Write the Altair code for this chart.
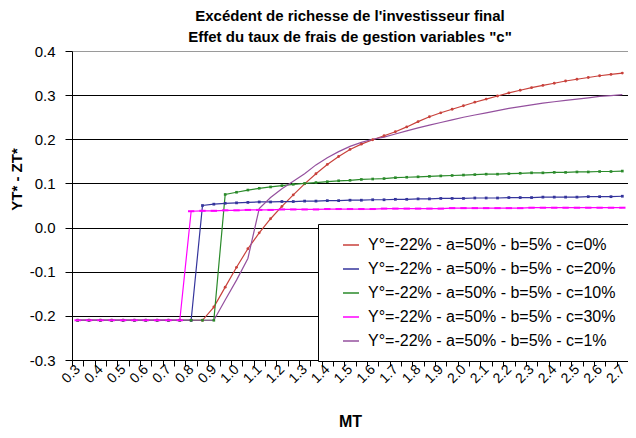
import altair as alt
import pandas as pd

FONT = "Liberation Sans"

# Categories (MT)
mt = [0.30, 0.35, 0.40, 0.45, 0.50, 0.55, 0.60, 0.65, 0.70, 0.75,
      0.80, 0.85, 0.90, 0.95, 1.00, 1.05, 1.10, 1.15, 1.20, 1.25,
      1.30, 1.35, 1.40, 1.45, 1.50, 1.55, 1.60, 1.65, 1.70, 1.75,
      1.80, 1.85, 1.90, 1.95, 2.00, 2.05, 2.10, 2.15, 2.20, 2.25,
      2.30, 2.35, 2.40, 2.45, 2.50, 2.55, 2.60, 2.65, 2.70]

series_names = [
    "Y°=-22% - a=50% - b=5% - c=0%",
    "Y°=-22% - a=50% - b=5% - c=20%",
    "Y°=-22% - a=50% - b=5% - c=10%",
    "Y°=-22% - a=50% - b=5% - c=30%",
    "Y°=-22% - a=50% - b=5% - c=1%",
]
colors = ["#C8413B", "#34349C", "#2A8A2A", "#FF00FF", "#94509E"]

c0 = [-0.21] * 12 + [
    -0.180, -0.135, -0.090, -0.048, -0.012, 0.020, 0.048, 0.074, 0.099, 0.122,
    0.143, 0.161, 0.177, 0.189, 0.199, 0.208, 0.217, 0.228, 0.240, 0.251,
    0.260, 0.268, 0.276, 0.284, 0.291, 0.298, 0.305, 0.311, 0.317, 0.322,
    0.327, 0.332, 0.336, 0.340, 0.344, 0.347, 0.350]
c20 = [-0.21] * 11 + [
    0.050, 0.053, 0.055, 0.056, 0.057, 0.058, 0.058, 0.059, 0.059, 0.060,
    0.060, 0.061, 0.061, 0.062, 0.062, 0.063, 0.063, 0.064, 0.064, 0.065,
    0.065, 0.066, 0.066, 0.066, 0.067, 0.067, 0.067, 0.068, 0.068, 0.068,
    0.069, 0.069, 0.069, 0.069, 0.070, 0.070, 0.070, 0.071]
c10 = [-0.21] * 13 + [
    0.075, 0.080, 0.085, 0.089, 0.092, 0.095, 0.098, 0.100, 0.102, 0.104,
    0.106, 0.107, 0.109, 0.110, 0.111, 0.113, 0.114, 0.115, 0.116, 0.117,
    0.118, 0.119, 0.120, 0.121, 0.121, 0.122, 0.123, 0.124, 0.124, 0.125,
    0.125, 0.126, 0.126, 0.127, 0.127, 0.128]
c30 = [-0.21] * 10 + [
    0.037, 0.038, 0.038, 0.039, 0.039, 0.040, 0.040, 0.040, 0.041, 0.041,
    0.041, 0.041, 0.042, 0.042, 0.042, 0.042, 0.042, 0.043, 0.043, 0.043,
    0.043, 0.043, 0.043, 0.044, 0.044, 0.044, 0.044, 0.044, 0.044, 0.044,
    0.045, 0.045, 0.045, 0.045, 0.045, 0.045, 0.045, 0.045, 0.045]
c1 = [-0.21] * 13 + [
    -0.164, -0.119, -0.070, 0.043, 0.068, 0.088, 0.105, 0.122, 0.142, 0.158,
    0.172, 0.184, 0.193, 0.200, 0.205, 0.212, 0.219, 0.226, 0.232, 0.238,
    0.244, 0.250, 0.255, 0.260, 0.265, 0.270, 0.274, 0.278, 0.282, 0.285,
    0.288, 0.291, 0.294, 0.297, 0.299, 0.301]

all_series = [c0, c20, c10, c30, c1]

rows = []
for name, vals in zip(series_names, all_series):
    for xv, yv in zip(mt, vals):
        rows.append({"x": xv, "y": yv, "series": name})
df = pd.DataFrame(rows)

tick_bounds = [round(v - 0.025, 3) for v in mt] + [round(mt[-1] + 0.025, 3)]
label_vals = mt[::2]
y_vals = [-0.3, -0.2, -0.1, 0.0, 0.1, 0.2, 0.3, 0.4]

xscale = alt.Scale(domain=[0.275, 2.725], nice=False, zero=False)
yscale = alt.Scale(domain=[-0.3, 0.4], nice=False, zero=False)

y_enc = alt.Y(
    "y:Q", scale=yscale,
    axis=alt.Axis(
        values=y_vals, labelExpr="replace(format(datum.value, '.1f'), '\u2212', '-')",
        grid=True,
        gridColor={"condition": {"test": "datum.value > 0.35", "value": "#9a9a9a"}, "value": "#000000"},
        gridWidth=1, domainColor="#000000", tickColor="#000000", tickSize=7,
        labelFont=FONT, labelFontSize=15, labelColor="#000000", labelPadding=10,
        title="YT* - ZT*", titleFont=FONT, titleFontSize=15, titleFontWeight="bold",
        titleColor="#000000", titleAngle=-90, titleX=-56, titleY=128,
        titleAlign="center", titleBaseline="middle",
    ),
)

color_enc = alt.Color(
    "series:N",
    scale=alt.Scale(domain=series_names, range=colors),
    legend=alt.Legend(
        title=None, orient="none", legendX=246, legendY=173,
        direction="vertical",
        strokeColor="#000000", fillColor="#ffffff", padding=12,
        labelFont=FONT, labelFontSize=16, labelColor="#000000", labelOffset=8,
        symbolType="stroke", symbolSize=256, symbolStrokeWidth=1.5,
        symbolOffset=12, rowPadding=7, labelLimit=400,
    ),
)

lines = alt.Chart(df).mark_line(strokeWidth=1.2).encode(
    x=alt.X("x:Q", scale=xscale, axis=alt.Axis(
        orient="bottom", values=tick_bounds, labels=False, ticks=True, tickSize=6,
        tickColor="#000000", domainColor="#000000", grid=False,
        title="MT", titleFont=FONT, titleFontSize=16, titleFontWeight="bold",
        titleColor="#000000", titleY=61, titleBaseline="middle")),
    y=y_enc,
    color=color_enc,
    order="x:Q",
)

pts_filled = alt.Chart(df).transform_filter(
    alt.FieldOneOfPredicate(field="series", oneOf=[series_names[0], series_names[1], series_names[2]])
).mark_point(filled=True, opacity=1).encode(
    x=alt.X("x:Q", scale=xscale, axis=alt.Axis(
        orient="bottom", values=label_vals, ticks=False, domain=False, grid=False,
        labelExpr="format(datum.value, '.1f')", labelAngle=-45, labelOverlap=False,
        labelAlign="right", labelBaseline="middle", labelPadding=7, labelBound=False,
        labelFont=FONT, labelFontSize=14, labelColor="#000000", title=None)),
    y=y_enc,
    color=alt.Color("series:N", scale=alt.Scale(domain=series_names, range=colors), legend=None),
    shape=alt.Shape("series:N", scale=alt.Scale(domain=series_names[:3], range=["circle", "square", "square"]), legend=None),
    size=alt.Size("series:N", scale=alt.Scale(domain=series_names[:3], range=[8, 7, 16]), legend=None),
)

pts_dash = alt.Chart(df).transform_filter(
    alt.FieldEqualPredicate(field="series", equal=series_names[3])
).mark_point(shape="stroke", filled=False, strokeWidth=2, size=40, opacity=1, color=colors[3]).encode(
    x=alt.X("x:Q", scale=xscale, axis=None),
    y=y_enc,
)

chart = alt.layer(lines, pts_filled, pts_dash).resolve_axis(x="independent").resolve_scale(
    x="shared", color="shared"
).properties(
    width=556, height=309,
    autosize=alt.AutoSizeParams(type="none"),
    padding={"left": 64, "top": 43, "right": 0, "bottom": 70},
    title=alt.TitleParams(
        text=["Excédent de richesse de l'investisseur final",
              "Effet du taux de frais de gestion variables \"c\""],
        font=FONT, fontSize=15, fontWeight="bold", color="#000000",
        lineHeight=21, anchor="middle", frame="group", offset=10, dy=11,
    ),
).configure_view(stroke=None).configure(background="#ffffff")

chart.save("out.html", embed_options={"renderer": "svg", "actions": False})
